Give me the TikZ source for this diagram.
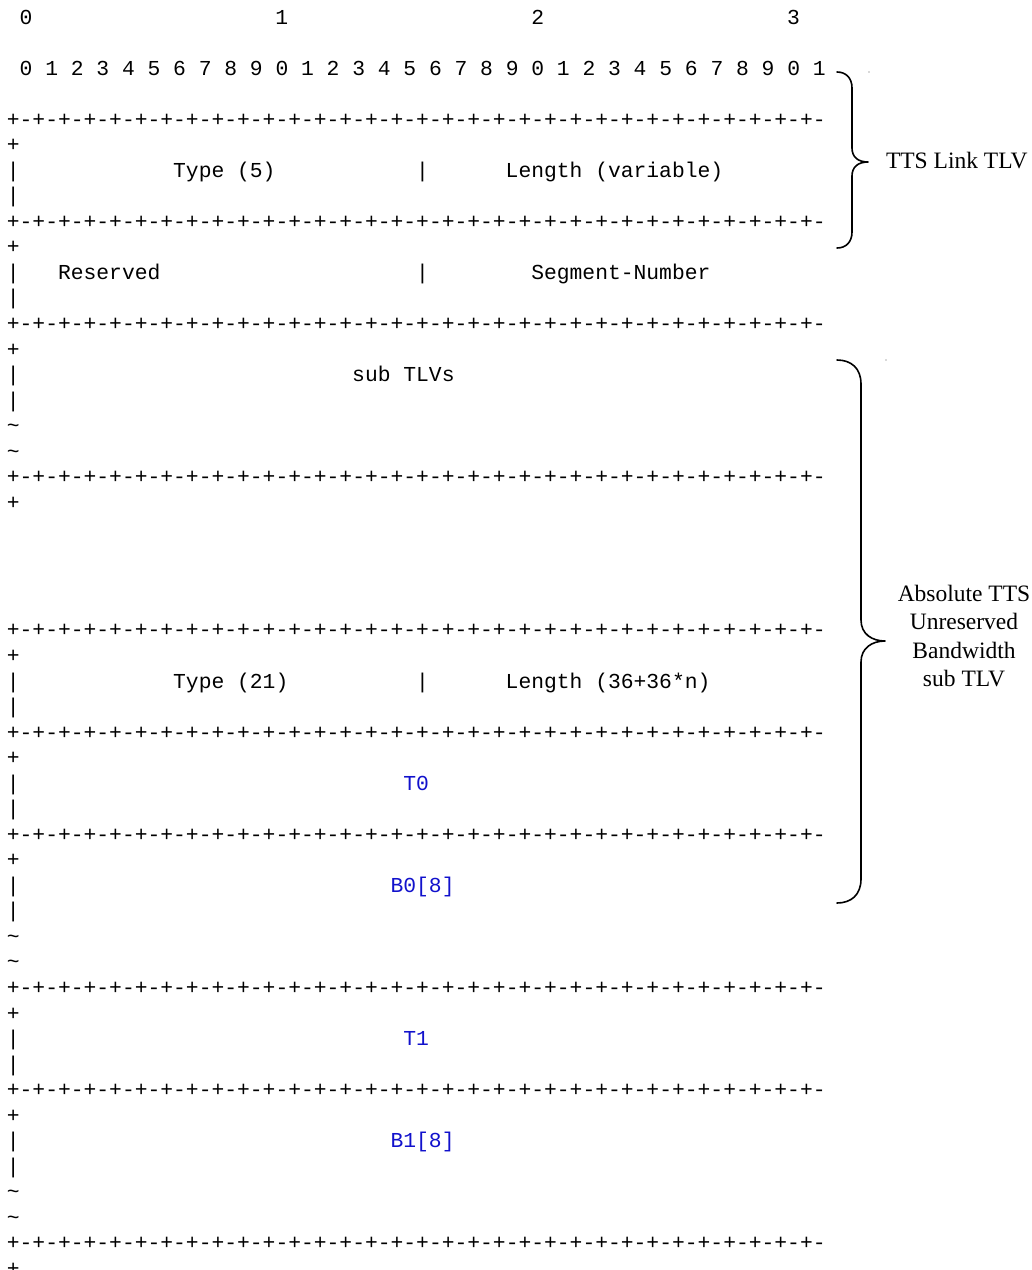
\documentclass[tikz,border=0pt]{standalone}
\usepackage{fontspec}
\setmainfont{Liberation Serif}
\newfontfamily\asciifont{Liberation Mono}
\definecolor{fieldblue}{RGB}{17,17,204}
\definecolor{specks}{RGB}{90,90,90}

% one row of the bit ruler: 32 times "+-"
\newcommand{\ruleeight}{+-+-+-+-+-+-+-+-}
\newcommand{\rulerow}{\ruleeight\ruleeight\ruleeight\ruleeight}
\newcommand{\tld}{\char"7E}

% character grid of the ASCII layout
\newcommand{\cw}{12.79}
\newcommand{\pitch}{25.54}
\newcommand{\xorg}{6.9}
\newcommand{\yorg}{24.0}

\tikzset{
  mono/.style={font=\asciifont\fontsize{21.32}{25.5}\selectfont,
               anchor=base west, inner sep=0pt, outer sep=0pt},
  field/.style={mono, text=fieldblue},
  sidelabel/.style={font=\fontsize{23.5}{28.5}\selectfont, align=center,
                    inner sep=0pt, outer sep=0pt},
  brace/.style={line width=1.6pt, line cap=round, line join=round}
}

\begin{document}
\begin{tikzpicture}[x=1pt, y=1pt]
\useasboundingbox (0,0) rectangle (1032,-1270);

% column/row helper: (col, row) -> position of the character cell baseline
\def\cell#1#2{({\xorg+\cw*(#1)}, {-(\yorg+\pitch*(#2))})}

% header bit numbers
\node[mono] (h0) at \cell{1}{0} {0};
\node[mono] (h1) at \cell{21}{0} {1};
\node[mono] (h2) at \cell{41}{0} {2};
\node[mono] (h3) at \cell{61}{0} {3};
\node[mono] (bits) at \cell{1}{2} {0 1 2 3 4 5 6 7 8 9 0 1 2 3 4 5 6 7 8 9 0 1 2 3 4 5 6 7 8 9 0 1};

% ruler lines, each followed by the wrapped "+"
\foreach \k in {4,8,12,18,24,28,32,38,42,48} {
  \node[mono] (rule\k) at \cell{0}{\k} {\rulerow};
}
\foreach \k in {5,9,13,19,25,29,33,39,43,49} {
  \node[mono] (plus\k) at \cell{0}{\k} {+};
}

% left borders
\foreach \k in {6,7,10,11,14,15,26,27,30,31,34,35,40,41,44,45} {
  \node[mono] (bar\k) at \cell{0}{\k} {|};
}
\foreach \k in {16,17,36,37,46,47} {
  \node[mono] (tilde\k) at \cell{0}{\k} {\tld};
}

% middle separators
\foreach \k in {6,10,26} {
  \node[mono] (mid\k) at \cell{32}{\k} {|};
}

% field names
\node[mono] (type5)   at \cell{13}{6}  {Type (5)};
\node[mono] (lenvar)  at \cell{39}{6}  {Length (variable)};
\node[mono] (resv)    at \cell{4}{10}  {Reserved};
\node[mono] (segnum)  at \cell{41}{10} {Segment-Number};
\node[mono] (subtlvs) at \cell{27}{14} {sub TLVs};
\node[mono] (type21)  at \cell{13}{26} {Type (21)};
\node[mono] (len36)   at \cell{39}{26} {Length (36+36*n)};
\node[field] (t0) at \cell{31}{30} {T0};
\node[field] (b0) at \cell{30}{34} {B0[8]};
\node[field] (t1) at \cell{31}{40} {T1};
\node[field] (b1) at \cell{30}{44} {B1[8]};

% brace around the TLV header
\draw[brace] (837,-72) .. controls (846,-72) and (852,-78) .. (852,-88)
  -- (852,-148) .. controls (852,-157) and (858,-162) .. (868,-162)
  .. controls (858,-162) and (852,-167) .. (852,-176)
  -- (852,-232) .. controls (852,-242) and (846,-248) .. (837,-248);
\node[sidelabel, anchor=base west] (tlvlabel) at (886,-168) {TTS Link TLV};

% brace around the sub-TLV
\draw[brace] (837,-360) .. controls (851,-360) and (861,-368) .. (861,-384)
  -- (861,-620) .. controls (861,-634) and (872,-641) .. (885,-641)
  .. controls (872,-641) and (861,-648) .. (861,-662)
  -- (861,-879) .. controls (861,-895) and (851,-903) .. (837,-903);
\node[sidelabel] (sublabel) at (964,-636)
  {Absolute TTS\\Unreserved\\Bandwidth\\sub TLV};

% stray specks
\fill[specks] (869,-72) circle (0.6);
\fill[specks] (886,-360) circle (0.6);
\end{tikzpicture}
\end{document}
